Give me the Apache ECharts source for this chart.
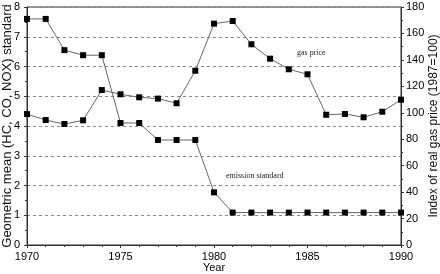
<!DOCTYPE html>
<html>
<head>
<meta charset="utf-8">
<script src="https://cdn.jsdelivr.net/npm/echarts@6/dist/echarts.min.js"></script>
<style>
  html, body { margin: 0; padding: 0; background: #fff; }
  #chart { width: 440px; height: 274px; }
</style>
</head>
<body>
<div id="chart"></div>
<script>
// Data
var years = [1970, 1971, 1972, 1973, 1974, 1975, 1976, 1977, 1978, 1979, 1980,
             1981, 1982, 1983, 1984, 1985, 1986, 1987, 1988, 1989, 1990];
var emissionStandard = [7.6, 7.6, 6.55, 6.38, 6.38, 4.1, 4.1, 3.53, 3.53, 3.53, 1.77,
                        1.09, 1.09, 1.09, 1.09, 1.09, 1.09, 1.09, 1.09, 1.09, 1.09];
var gasPrice = [99, 94.5, 91.5, 94.3, 117.2, 114, 111.7, 110.7, 107.2, 131.8, 167.4,
                169.4, 151.8, 140.9, 132.9, 129.1, 98.5, 99.1, 96.6, 100.8, 109.9];
var leftAxisName = "Geometric mean (HC, CO, NOX) standard";
var rightAxisName = "Index of real gas price (1987=100)";

var pairs = function (vals) {
  return years.map(function (y, i) { return [y, vals[i]]; });
};

var chartEl = document.getElementById("chart");
var chart = echarts.init(chartEl);

// horizontal texts look condensed in the original, rotated names do not
var tickFont = { color: "#000", fontSize: 11, fontFamily: "Liberation Sans Narrow, Arial Narrow, sans-serif" };
var nameFont = { color: "#111", fontSize: 13, fontFamily: "Liberation Sans, Arial, sans-serif" };

chart.setOption({
  animation: false,
  textStyle: { fontFamily: "Liberation Sans, Arial, sans-serif" },

  grid: {
    left: 27, right: 39, top: 7, bottom: 29,
    containLabel: false,
    outerBoundsMode: "none",
    show: true, borderColor: "#333", borderWidth: 1
  },

  xAxis: {
    type: "value",
    min: 1970,
    max: 1990,
    interval: 5,
    name: "Year",
    nameLocation: "middle",
    nameGap: 17,
    nameMoveOverlap: false,
    nameTextStyle: tickFont,
    axisLine: { lineStyle: { color: "#333" } },
    axisTick: { length: 3, lineStyle: { color: "#333" } },
    minorTick: { show: true, splitNumber: 5, length: 2, lineStyle: { color: "#333" } },
    axisLabel: Object.assign({ margin: 6, formatter: function (v) { return String(v); } }, tickFont),
    splitLine: { show: false }
  },

  yAxis: [
    {
      type: "value",
      min: 0,
      max: 8,
      interval: 1,
      name: leftAxisName,
      nameLocation: "middle",
      nameGap: 13,
      nameMoveOverlap: false,
      nameTextStyle: nameFont,
      axisLine: { show: true, lineStyle: { color: "#333" } },
      axisTick: { show: true, length: 3, lineStyle: { color: "#333" } },
      minorTick: { show: true, splitNumber: 2, length: 2, lineStyle: { color: "#333" } },
      axisLabel: Object.assign({ margin: 7 }, tickFont),
      splitLine: { show: true, lineStyle: { color: "#888", type: [3, 3], width: 1 } }
    },
    {
      type: "value",
      min: 0,
      max: 180,
      interval: 20,
      position: "right",
      name: rightAxisName,
      nameLocation: "middle",
      nameGap: 27,
      nameRotate: 90,
      nameMoveOverlap: false,
      nameTextStyle: Object.assign({}, nameFont, { fontSize: 12 }),
      axisLine: { show: true, lineStyle: { color: "#333" } },
      axisTick: { show: true, length: 3, lineStyle: { color: "#333" } },
      minorTick: { show: true, splitNumber: 2, length: 2, lineStyle: { color: "#333" } },
      axisLabel: Object.assign({ margin: 5 }, tickFont),
      splitLine: { show: false }
    }
  ],

  series: [
    {
      name: "emission standard",
      type: "line",
      yAxisIndex: 0,
      data: pairs(emissionStandard),
      symbol: "rect",
      symbolSize: 6,
      lineStyle: { color: "#666", width: 1 },
      itemStyle: { color: "#000" }
    },
    {
      name: "gas price",
      type: "line",
      yAxisIndex: 1,
      data: pairs(gasPrice),
      symbol: "rect",
      symbolSize: 6,
      lineStyle: { color: "#666", width: 1 },
      itemStyle: { color: "#000" }
    }
  ],

  graphic: [
    {
      type: "text",
      left: 297,
      top: 49,
      style: { text: "gas price", fontSize: 8, fontFamily: "Liberation Serif, serif", fill: "#222" }
    },
    {
      // white box behind the label hides part of the grid line, as in the original
      type: "text",
      left: 224,
      top: 170,
      style: {
        text: "emission standard", fontSize: 8, fontFamily: "Liberation Serif, serif", fill: "#222",
        backgroundColor: "#fff", padding: [2, 23, 8, 2]
      }
    }
  ]
});

window.addEventListener("resize", function () {
  chart.resize();
});
</script>
</body>
</html>
